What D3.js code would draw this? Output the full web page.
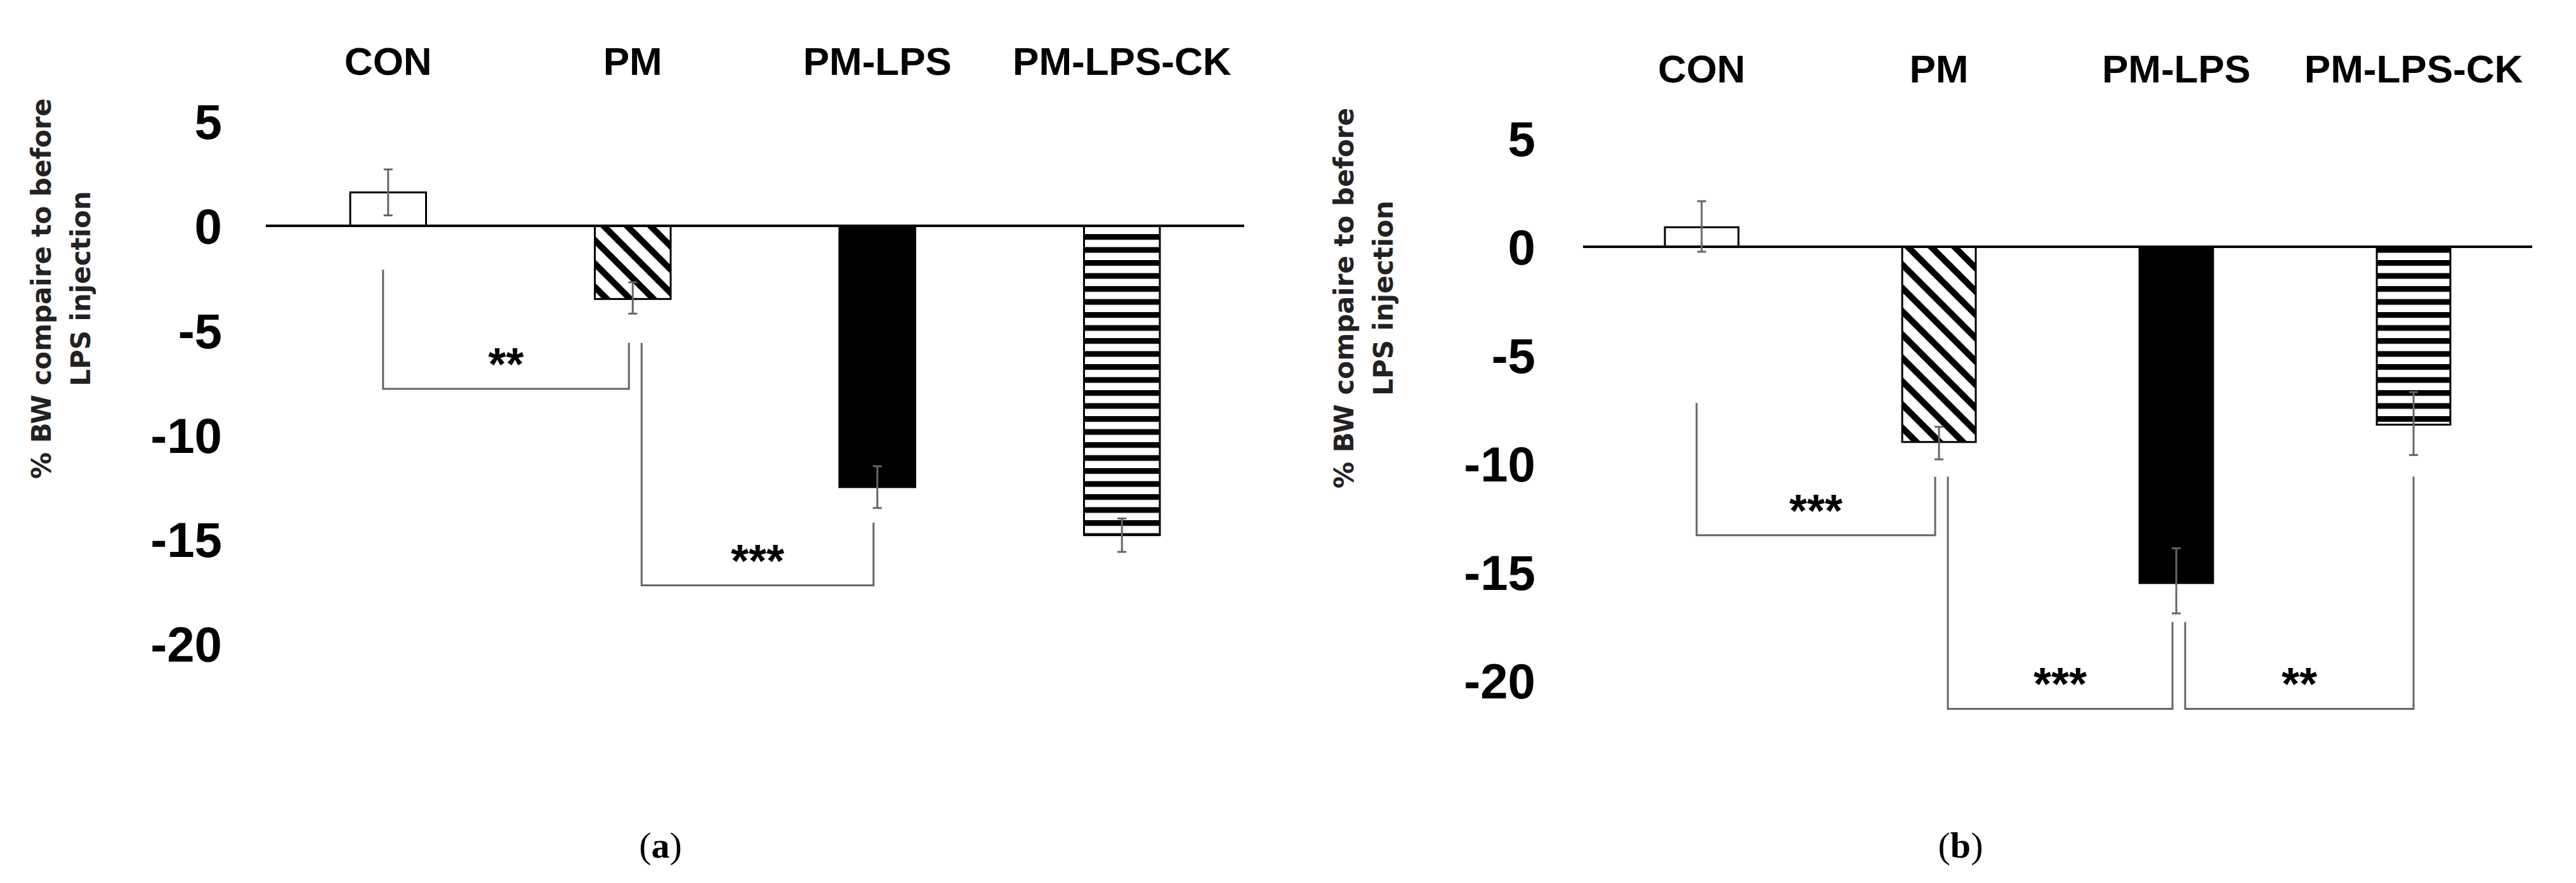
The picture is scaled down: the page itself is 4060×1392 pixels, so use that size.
<!DOCTYPE html><html><head><meta charset="utf-8"><script src="https://cdn.jsdelivr.net/npm/d3@7"></script>
<style>body{margin:0;background:#fff}</style></head><body><svg id="c" width="4060" height="1392"></svg>
<script>
const categories=["CON","PM","PM-LPS","PM-LPS-CK"];
const yTicks=[5,0,-5,-10,-15,-20];
const valuesA=[1.6,-3.5,-12.5,-14.8];
const errLowA=[0.5,-4.2,-13.5,-15.6];
const errHighA=[2.7,-2.7,-11.5,-14.0];
const valuesB=[0.9,-9.0,-15.5,-8.2];
const errLowB=[-0.23,-9.8,-16.9,-9.6];
const errHighB=[2.1,-8.3,-13.9,-6.7];
// brackets: [fromIndex,toIndex, startY, bottomY, endY, label]
const bracketsA=[[0,1,-2.1,-7.8,-5.6,"**"],[1,2,-5.6,-17.2,-14.2,"***"]];
const bracketsB=[[0,1,-7.2,-13.3,-10.6,"***"],[1,2,-10.6,-21.3,-17.3,"***"],[2,3,-17.3,-21.3,-10.6,"**"]];
const fills=["#fff","url(#diag)","#000","url(#horiz)"];
const svg=d3.select("#c");
const defs=svg.append("defs");
const pd=defs.append("pattern").attr("id","diag").attr("patternUnits","userSpaceOnUse").attr("width",26).attr("height",26).attr("patternTransform","rotate(-45)");
pd.append("rect").attr("width",26).attr("height",26).attr("fill","#fff");
pd.append("rect").attr("x",0).attr("width",10).attr("height",26).attr("fill","#000");
const ph=defs.append("pattern").attr("id","horiz").attr("patternUnits","userSpaceOnUse").attr("width",20).attr("height",20.5);
ph.append("rect").attr("width",20).attr("height",20.5).attr("fill","#fff");
ph.append("rect").attr("y",0).attr("width",20).attr("height",9).attr("fill","#000");
function panel(o){
  const g=svg.append("g");
  const y=d3.scaleLinear().domain([0,-20]).range([o.y0,o.ym20]);
  const x=d3.scaleBand().domain(categories).range([o.x0,o.x1]).paddingInner(0.69).paddingOuter(0.345);
  const bw=x.bandwidth();
  // bars
  g.selectAll(".bar").data(o.vals).enter().append("rect")
    .attr("x",(d,i)=>x(categories[i])).attr("width",bw)
    .attr("y",d=>Math.min(y(d),y(0))).attr("height",d=>Math.abs(y(d)-y(0)))
    .attr("fill",(d,i)=>fills[i]).attr("stroke","#000").attr("stroke-width",3);
  // axis line
  g.append("line").attr("x1",o.x0).attr("x2",o.x1).attr("y1",y(0)).attr("y2",y(0)).attr("stroke","#000").attr("stroke-width",4);
  // error bars
  o.vals.forEach((d,i)=>{
    const cx=x(categories[i])+bw/2;
    g.append("line").attr("x1",cx).attr("x2",cx).attr("y1",y(o.lo[i])).attr("y2",y(o.hi[i])).attr("stroke","#666").attr("stroke-width",3);
    [o.lo[i],o.hi[i]].forEach(v=>g.append("line").attr("x1",cx-7).attr("x2",cx+7).attr("y1",y(v)).attr("y2",y(v)).attr("stroke","#666").attr("stroke-width",3));
  });
  // category labels
  g.selectAll(".cat").data(categories).enter().append("text")
    .attr("x",d=>x(d)+bw/2).attr("y",o.catY).attr("text-anchor","middle")
    .attr("font-family","'Liberation Sans Narrow','Arial Narrow',sans-serif").attr("font-weight","bold").attr("font-size",62)
    .text(d=>d);
  // y ticks
  g.selectAll(".tk").data(yTicks).enter().append("text")
    .attr("x",o.tickX).attr("y",d=>y(d)).attr("dy","0.36em").attr("text-anchor","end")
    .attr("font-family","'Liberation Sans Narrow','Arial Narrow',sans-serif").attr("font-weight","bold").attr("font-size",78)
    .text(d=>d);
  // y title
  const t=g.append("text").attr("transform",`translate(${o.titleX},${o.titleY}) rotate(-90)`).attr("text-anchor","middle")
    .attr("font-family","'DejaVu Sans',sans-serif").attr("font-weight","bold").attr("font-size",42).attr("fill","#222");
  t.append("tspan").attr("x",0).attr("dy",0).text("% BW compaire to before");
  t.append("tspan").attr("x",0).attr("dy",62).text("LPS injection");
  // brackets
  o.br.forEach(b=>{
    const xa=x(categories[b[0]])+bw/2+(b[0]===0?-8:14), xb=x(categories[b[1]])+bw/2+(b[1]===3?0:-6);
    g.append("path").attr("d",`M${xa},${y(b[2])}V${y(b[3])}H${xb}V${y(b[4])}`).attr("fill","none").attr("stroke","#666").attr("stroke-width",3);
    g.append("text").attr("x",(xa+xb)/2).attr("y",y(b[3])-14).attr("text-anchor","middle")
      .attr("font-family","'Liberation Sans',sans-serif").attr("font-weight","bold").attr("font-size",72).text(b[5]);
  });
  svg.append("text").attr("x",o.capX).attr("y",1352).attr("text-anchor","middle")
    .attr("font-family","'Liberation Serif',serif").attr("font-size",58).html(o.cap);
}
panel({vals:valuesA,lo:errLowA,hi:errHighA,br:bracketsA,y0:356,ym20:1015,x0:419,x1:1961,catY:118,tickX:350,titleX:80,titleY:455,capX:1041,cap:'(<tspan font-weight="bold">a</tspan>)'});
panel({vals:valuesB,lo:errLowB,hi:errHighB,br:bracketsB,y0:389,ym20:1073,x0:2495,x1:3991,catY:130,tickX:2420,titleX:2133,titleY:470,capX:3090,cap:'(<tspan font-weight="bold">b</tspan>)'});
</script></body></html>
